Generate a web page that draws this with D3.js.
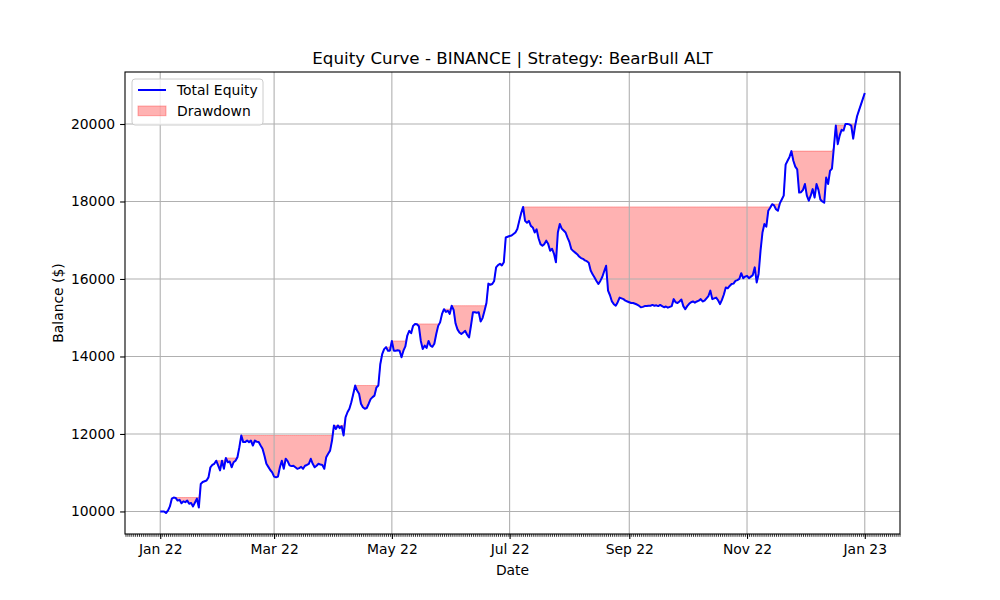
<!DOCTYPE html>
<html>
<head>
<meta charset="utf-8">
<script src="https://cdn.jsdelivr.net/npm/d3@7"></script>
<style>
  body { margin: 0; background: #fff; }
  svg text { font-family: "DejaVu Sans", sans-serif; fill: #000; }
</style>
</head>
<body>
<svg id="chart" width="1000" height="600"></svg>
<script>
// daily balance, starting 2022-01-01
const startDay = "2022-01-01";
const balance = [
  10000,10000,10000,9960,10020,10130,10330,10360,10350,10280,
  10300,10210,10260,10240,10280,10200,10220,10130,10230,10330,
  10100,10710,10760,10780,10800,10880,11140,11200,11230,11310,
  11190,11060,11310,11100,11380,11270,11290,11140,11270,11310,
  11400,11660,11960,11790,11790,11830,11790,11830,11700,11830,
  11800,11790,11700,11620,11440,11230,11150,11070,11010,10900,
  10880,10900,11140,11310,11100,11360,11300,11190,11170,11180,
  11140,11100,11120,11150,11100,11180,11200,11230,11360,11230,
  11140,11180,11230,11210,11200,11100,11400,11490,11570,11830,
  12220,12130,12220,12150,12200,11960,12430,12560,12650,12820,
  13030,13250,13120,13040,12780,12690,12650,12670,12780,12900,
  12950,12990,13200,13250,13800,14060,14190,14240,14150,14150,
  14400,14150,14150,14160,14150,13980,14150,14260,14540,14660,
  14600,14790,14840,14830,14780,14400,14190,14280,14220,14400,
  14280,14250,14330,14580,14790,14880,15100,15220,15150,15180,
  15100,15310,15200,14850,14700,14620,14580,14620,14660,14560,
  14490,14800,15140,15140,15130,15140,14900,14990,15180,15380,
  15880,15850,15870,15950,16300,16360,16390,16350,16430,17070,
  17090,17110,17120,17160,17200,17290,17500,17700,17860,17500,
  17450,17500,17370,17330,17200,17280,17050,16900,16860,16900,
  16990,16900,16730,16780,16650,16430,17200,17420,17300,17250,
  17200,17070,16950,16770,16720,16680,16640,16580,16540,16520,
  16480,16460,16420,16220,16120,16040,15950,15870,15950,16050,
  16200,16340,15700,15580,15420,15350,15310,15400,15520,15500,
  15480,15440,15420,15400,15380,15380,15360,15340,15310,15270,
  15280,15300,15300,15310,15310,15330,15310,15320,15300,15330,
  15300,15270,15290,15260,15280,15300,15480,15400,15380,15420,
  15470,15300,15220,15300,15360,15400,15420,15390,15420,15440,
  15480,15420,15440,15500,15560,15700,15480,15500,15520,15450,
  15350,15460,15600,15780,15760,15820,15870,15880,15950,15970,
  16000,16150,16020,16060,16080,16020,16060,16100,16300,15910,
  16130,16730,17200,17420,17350,17760,17840,17930,17900,17800,
  17760,17950,18050,18150,18950,19050,19150,19300,19050,18900,
  18830,18230,18240,18300,18450,18150,18020,18150,18320,18100,
  18450,18300,18050,18000,17970,18620,18450,18790,18850,19400,
  19960,19480,19700,19850,19830,20000,20000,19990,19960,19620,
  19950,20200,20350,20500,20650,20800
];
const yTicks = [10000, 12000, 14000, 16000, 18000, 20000];
const legendLabels = ["Total Equity", "Drawdown"];
const titleText = "Equity Curve - BINANCE | Strategy: BearBull ALT";

const svg = d3.select("#chart");
const plotLeft = 125, plotRight = 900, plotTop = 72, plotBottom = 534;

const t0 = d3.utcParse("%Y-%m-%d")(startDay);
const rows = balance.map((v, i) => ({ date: d3.utcDay.offset(t0, i), value: v }));
let peak = -Infinity;
rows.forEach(r => { peak = Math.max(peak, r.value); r.peak = peak; });

// matplotlib-like 5% margins
const [d0, d1] = d3.extent(rows, r => +r.date);
const dPad = (d1 - d0) * 0.05;
const x = d3.scaleUtc().domain([new Date(d0 - dPad), new Date(d1 + dPad)]).range([plotLeft, plotRight]);
const [v0, v1] = d3.extent(balance);
const vPad = (v1 - v0) * 0.05;
const y = d3.scaleLinear().domain([v0 - vPad, v1 + vPad]).range([plotBottom, plotTop]);

// drawdown fill
svg.append("path")
  .datum(rows)
  .attr("d", d3.area().x(r => x(r.date)).y0(r => y(r.peak)).y1(r => y(r.value)))
  .attr("fill", "red").attr("fill-opacity", 0.3)
  .attr("stroke", "red").attr("stroke-opacity", 0.3).attr("stroke-width", 1);

// grid
const majorDates = d3.utcMonth.every(2).range(x.domain()[0], x.domain()[1]);
svg.append("g").selectAll("line").data(majorDates).join("line")
  .attr("x1", d => x(d)).attr("x2", d => x(d)).attr("y1", plotTop).attr("y2", plotBottom)
  .attr("stroke", "#b0b0b0").attr("stroke-width", 1.1);
svg.append("g").selectAll("line").data(yTicks).join("line")
  .attr("x1", plotLeft).attr("x2", plotRight).attr("y1", d => y(d)).attr("y2", d => y(d))
  .attr("stroke", "#b0b0b0").attr("stroke-width", 1.1);

// equity line
svg.append("path")
  .datum(rows)
  .attr("d", d3.line().x(r => x(r.date)).y(r => y(r.value)))
  .attr("fill", "none").attr("stroke", "blue").attr("stroke-width", 2)
  .attr("stroke-linejoin", "round");

// axes
const xMinor = d3.axisBottom(x).ticks(d3.utcDay.every(1)).tickSize(2.8).tickFormat("");
svg.append("g").attr("transform", `translate(0,${plotBottom})`).call(xMinor)
  .call(g => g.select(".domain").remove())
  .call(g => g.selectAll("line").attr("stroke-width", 0.8));
const xMajor = d3.axisBottom(x).tickValues(majorDates).tickSize(4.9).tickPadding(5)
  .tickFormat(d3.utcFormat("%b %y"));
svg.append("g").attr("transform", `translate(0,${plotBottom})`).call(xMajor)
  .call(g => g.select(".domain").remove())
  .call(g => g.selectAll("line").attr("stroke-width", 1.1))
  .call(g => g.selectAll("text").attr("font-size", 13.9).attr("font-family", "DejaVu Sans").attr("dy", "0.72em"));
const yAxis = d3.axisLeft(y).tickValues(yTicks).tickSize(4.9).tickPadding(5).tickFormat(d3.format("d"));
svg.append("g").attr("transform", `translate(${plotLeft},0)`).call(yAxis)
  .call(g => g.select(".domain").remove())
  .call(g => g.selectAll("line").attr("stroke-width", 1.1))
  .call(g => g.selectAll("text").attr("font-size", 13.9).attr("font-family", "DejaVu Sans"));

// spines
svg.append("rect").attr("x", plotLeft).attr("y", plotTop)
  .attr("width", plotRight - plotLeft).attr("height", plotBottom - plotTop)
  .attr("fill", "none").attr("stroke", "#000").attr("stroke-width", 1.1);

// labels
svg.append("text").attr("x", (plotLeft + plotRight) / 2).attr("y", 64).attr("text-anchor", "middle")
  .attr("font-size", 16.7).text(titleText);
svg.append("text").attr("x", (plotLeft + plotRight) / 2).attr("y", 575).attr("text-anchor", "middle")
  .attr("font-size", 13.9).text("Date");
svg.append("text").attr("transform", `translate(63,${(plotTop + plotBottom) / 2}) rotate(-90)`)
  .attr("text-anchor", "middle").attr("font-size", 13.9).text("Balance ($)");

// legend
const lg = svg.append("g").attr("transform", "translate(132,79)");
lg.append("rect").attr("width", 131).attr("height", 46).attr("rx", 3)
  .attr("fill", "#fff").attr("fill-opacity", 0.8).attr("stroke", "#ccc").attr("stroke-width", 1);
lg.append("line").attr("x1", 6).attr("x2", 34).attr("y1", 11).attr("y2", 11)
  .attr("stroke", "blue").attr("stroke-width", 2);
lg.append("rect").attr("x", 6).attr("y", 27).attr("width", 28).attr("height", 9.7)
  .attr("fill", "red").attr("fill-opacity", 0.3).attr("stroke", "red").attr("stroke-opacity", 0.3);
lg.selectAll("text.lbl").data(legendLabels).join("text").attr("class", "lbl")
  .attr("x", 45).attr("y", (d, i) => 16 + i * 21).attr("font-size", 13.9).text(d => d);
</script>
</body>
</html>
